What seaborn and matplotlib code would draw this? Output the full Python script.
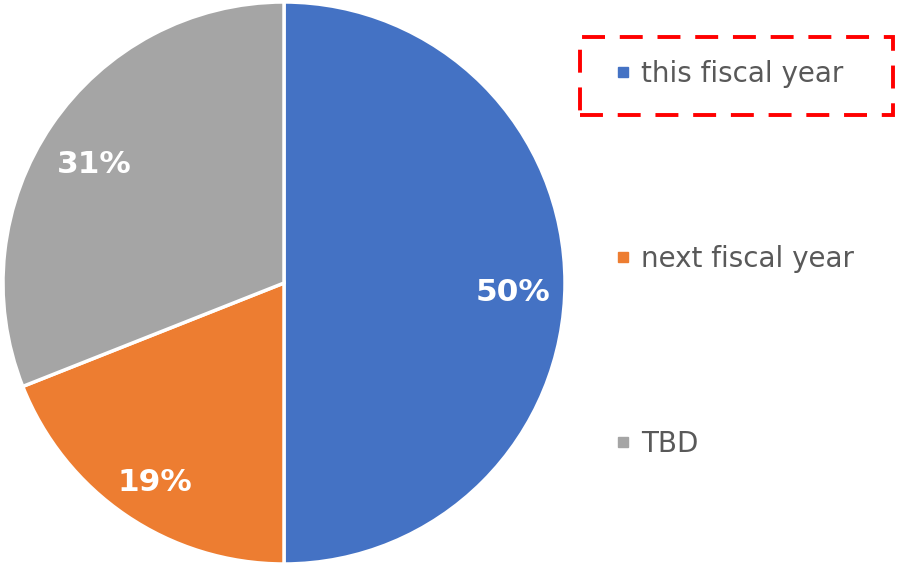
import matplotlib
matplotlib.use("Agg")
import matplotlib.pyplot as plt
import seaborn as sns
from matplotlib.lines import Line2D
from matplotlib.patches import Rectangle

categories = ["this fiscal year", "next fiscal year", "TBD"]
values = [50, 19, 31]
colors = ["#4472C4", "#ED7D31", "#A5A5A5"]

sns.set_theme(style="white")
plt.rcParams['font.family'] = ['DejaVu Sans']

W, H = 901, 564
fig = plt.figure(figsize=(W / 100, H / 100), dpi=100)
cx, cy, r = 284, 283, 281
ax = fig.add_axes([(cx - r) / W, (H - cy - r) / H, 2 * r / W, 2 * r / H])
wedges, texts, autotexts = ax.pie(
    values, colors=colors, startangle=90, counterclock=False,
    autopct=lambda p: f"{p:.0f}%", pctdistance=0.815, radius=1,
    wedgeprops=dict(edgecolor="white", linewidth=2.5),
    textprops=dict(color="white", fontsize=22.5, fontweight="bold"))
for t in autotexts:
    x, y = t.get_position()
    t.set_position((x, y - 10 / r))
ax.set_xlim(-1, 1)
ax.set_ylim(-1, 1)
ax.set_aspect("equal")
ax.axis("off")

handles = [Line2D([0], [0], marker="s", linestyle="none", markersize=7.5,
                  markerfacecolor=c, markeredgecolor=c) for c in colors]
leg = fig.legend(handles, categories, loc="upper left",
                 bbox_to_anchor=(615 / W, 1 - 60 / H), frameon=False,
                 fontsize=20, labelspacing=5.65, handlelength=0.55,
                 handletextpad=0.4, borderpad=0, borderaxespad=0)
for t in leg.get_texts():
    t.set_color("#595959")

rect = Rectangle((580 / W, 1 - 115 / H), (893 - 580) / W, (115 - 37) / H,
                 transform=fig.transFigure, fill=False, edgecolor="#FF0000",
                 linewidth=2.8, linestyle=(0, (5.9, 3.8)))
fig.patches.append(rect)

fig.savefig("out.png", dpi=100)
